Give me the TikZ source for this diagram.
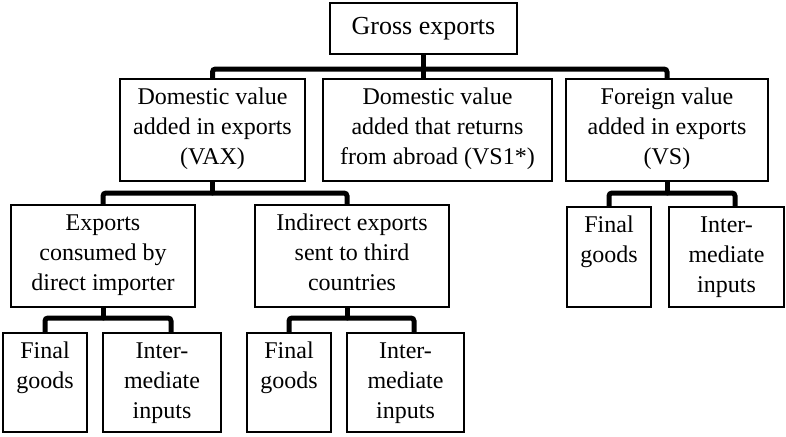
\documentclass[tikz,border=0pt]{standalone}
\usepackage{fontspec}
\setmainfont{Liberation Serif}
\usetikzlibrary{backgrounds}
\newcommand\bt[3]{\parbox[c][#2][t]{#1}{\centering\vspace*{4pt}\strut #3\par}}
\newcommand\bc[3]{\parbox[c][#2][c]{#1}{\centering #3\par}}
\begin{document}
\begin{tikzpicture}[x=1pt,y=-1pt,
  box/.style={draw=black, line width=1.8pt, fill=white, inner sep=0pt, outer sep=0pt, anchor=north west, font=\fontsize{24}{30}\selectfont},
  conn/.style={draw=black, line width=5pt, rounded corners=3pt, line cap=round}]
\useasboundingbox (0,0) rectangle (786,436);
% level 1
\node[box, font=\fontsize{26}{30}\selectfont] (g) at (330,3) {\bc{187pt}{51pt}{Gross exports}};
% level 2
\node[box] (dva) at (120,79) {\bt{185pt}{102pt}{Domestic value\\added in exports\\(VAX)}};
\node[box] (dvr) at (323,79) {\bt{229pt}{102pt}{Domestic value\\added that returns\\from abroad (VS1*)}};
\node[box] (fva) at (566,79) {\bt{202pt}{102pt}{Foreign value\\added in exports\\(VS)}};
% level 3
\node[box] (ecd) at (11,205) {\bt{184pt}{102pt}{Exports\\consumed by\\direct importer}};
\node[box] (ie) at (255,205) {\bt{194pt}{102pt}{Indirect exports\\sent to third\\countries}};
\node[box] (fg3) at (567,207) {\bt{84pt}{100pt}{Final\\goods}};
\node[box] (ii3) at (669,207) {\bt{115pt}{100pt}{Inter-\\mediate\\inputs}};
% level 4
\node[box] (fg1) at (3,333) {\bt{84pt}{99pt}{Final\\goods}};
\node[box] (ii1) at (103,333) {\bt{118pt}{99pt}{Inter-\\mediate\\inputs}};
\node[box] (fg2) at (247,333) {\bt{84pt}{99pt}{Final\\goods}};
\node[box] (ii2) at (347,333) {\bt{117pt}{99pt}{Inter-\\mediate\\inputs}};
% bus coordinates
\coordinate (b1) at (0,69);
\coordinate (b2) at (0,193);
\coordinate (b3) at (0,318);
\coordinate (ieT) at ([xshift=92pt]ie.north west);
\coordinate (ieB) at ([xshift=92pt]ie.south west);
\coordinate (ii1T) at ([xshift=68pt]ii1.north west);
\coordinate (ii2T) at ([xshift=67pt]ii2.north west);
\coordinate (ii3T) at ([xshift=66pt]ii3.north west);
\begin{pgfonlayer}{background}
\draw[conn] (dva.north) -- (dva.north |- b1) -- (fva.north |- b1) -- (fva.north);
\draw[conn] (g.south) -- (g.south |- dvr.north);
\draw[conn] (ecd.north) -- (ecd.north |- b2) -- (ieT |- b2) -- (ieT);
\draw[conn] (dva.south) -- (dva.south |- b2);
\draw[conn] (fg3.north) -- (fg3.north |- b2) -- (ii3T |- b2) -- (ii3T);
\draw[conn] (fva.south) -- (fva.south |- b2);
\draw[conn] (fg1.north) -- (fg1.north |- b3) -- (ii1T |- b3) -- (ii1T);
\draw[conn] (ecd.south) -- (ecd.south |- b3);
\draw[conn] (fg2.north) -- (fg2.north |- b3) -- (ii2T |- b3) -- (ii2T);
\draw[conn] (ieB) -- (ieB |- b3);
\end{pgfonlayer}
\end{tikzpicture}
\end{document}
